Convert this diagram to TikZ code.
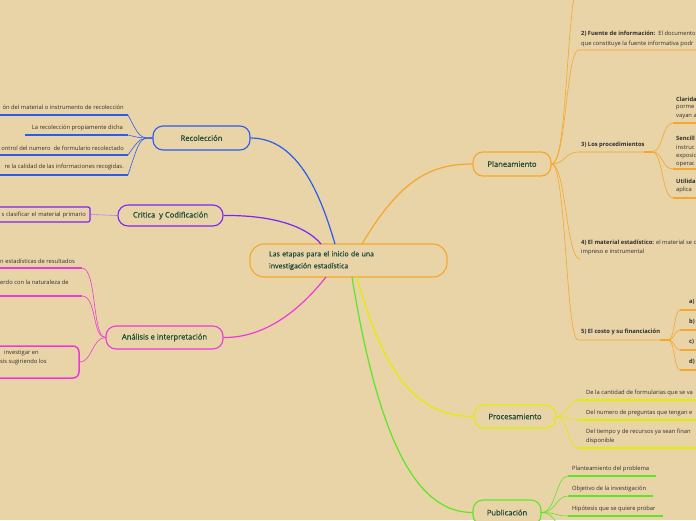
\documentclass[tikz,border=0pt]{standalone}
\usepackage{fontspec}
\setmainfont{Open Sans}
\newfontfamily\medfont{Open Sans}[FakeBold=0.7]
\definecolor{bg}{HTML}{E9D4A8}
\definecolor{cblue}{HTML}{2B5BF0}
\definecolor{cpurple}{HTML}{7E22F5}
\definecolor{cmag}{HTML}{EE3AD9}
\definecolor{corange}{HTML}{F6A62A}
\definecolor{cyellow}{HTML}{DDF000}
\definecolor{cgreen}{HTML}{5CE626}
\definecolor{tgreen}{HTML}{1E4B3A}
\definecolor{tgray}{HTML}{2E2E2E}
\tikzset{
  mainbox/.style={draw, line width=1.1pt, rounded corners=10pt, fill=bg, text=tgreen,
    font=\medfont\fontsize{7.6}{9}\selectfont, inner sep=0pt, align=center},
  small/.style={font=\fontsize{5.8}{9}\selectfont, text=tgray, inner sep=0pt},
  thinc/.style={line width=0.6pt},
  uline/.style={line width=1.6pt},
}
\begin{document}
\begin{tikzpicture}[x=1pt,y=-1pt]
\useasboundingbox (0,0) rectangle (696,520);
\clip (0,0) rectangle (696,520);
\fill[bg] (0,0) rectangle (696,520);

% ---------- main nodes ----------
\node[mainbox, draw=corange, minimum width=197pt, minimum height=33pt, rounded corners=14pt,
  text width=159pt, align=left, font=\medfont\fontsize{7}{12}\selectfont] (center) at (348.5,260.5)
  {Las etapas para el inicio de una\\investigación estadística};
\node[mainbox, draw=cblue, minimum width=97pt, minimum height=24pt] (rec) at (201.5,138) {Recolección};
\node[mainbox, draw=cpurple, minimum width=105pt, minimum height=21pt] (crit) at (170.5,215.5) {Critica\ \ y Codificación};
\node[mainbox, draw=cmag, minimum width=117pt, minimum height=23pt] (ana) at (164.5,337.5) {Análisis e interpretación};
\node[mainbox, draw=corange, minimum width=78pt, minimum height=24pt] (plan) at (512,164) {Planeamiento};
\node[mainbox, draw=cyellow, minimum width=82pt, minimum height=23pt] (proc) at (515,416.5) {Procesamiento};
\node[mainbox, draw=cgreen, minimum width=68pt, minimum height=25pt] (pub) at (507,512.5) {Publicación};

% ---------- central connectors ----------
\coordinate (cB) at (335,244);
\coordinate (cP) at (321,244);
\coordinate (cM) at (326,277);
\coordinate (cO) at (362,244);
\coordinate (cY) at (357,277);
\coordinate (cG) at (352,277);
\draw[cblue, line width=1.2pt] (rec.east) .. controls (300,138) and (322,200) .. (cB);
\draw[cpurple, line width=1.2pt] (crit.east) .. controls (270,215) and (305,225) .. (cP);
\draw[cmag, line width=1.2pt] (ana.east) .. controls (265,338) and (300,310) .. (cM);
\draw[corange, line width=1.2pt] (cO) .. controls (400,180) and (430,164) .. (plan.west);
\draw[cyellow, line width=1.2pt] (cY) .. controls (385,380) and (420,416.5) .. (proc.west);
\draw[cgreen, line width=1.2pt] (cG) .. controls (380,450) and (420,512.5) .. (pub.west);

% ---------- Recolección ----------
\node[small, anchor=east] (r1) at (124,107) {ón del material o instrumento de recolección};
\node[small, anchor=east] (r2) at (123,128) {La recolección propiamente dicha};
\node[small, anchor=east] (r3) at (124,148) {ontrol del numero\ \ de formulario recolectado};
\node[small, anchor=east] (r4) at (124,167) {re la calidad de las informaciones recogidas.};
\coordinate (r1e) at (128,115); \coordinate (r1s) at (-5,115);
\coordinate (r2e) at (128,135); \coordinate (r2s) at (25,135);
\coordinate (r3e) at (128,155); \coordinate (r3s) at (-5,155);
\coordinate (r4e) at (128,175); \coordinate (r4s) at (-5,175);
\foreach \a/\b in {r1e/r1s,r2e/r2s,r3e/r3s,r4e/r4s}{
  \draw[cblue, uline] (\a) -- (\b);
  \draw[cblue, thinc] (rec.west) .. controls (140,138) and (140,138) .. (\a);
}

% ---------- Critica ----------
\node[small, draw=cpurple, line width=1.2pt, rounded corners=2pt, fill=bg,
  minimum width=96pt, minimum height=15pt, text width=88pt, align=right] (cr1) at (42,214.5)
  {s clasificar el material primario};
\draw[cpurple!60, thinc] (cr1.east) -- (crit.west);

% ---------- Análisis ----------
\node[small, anchor=west] (a1) at (0,261) {n estadísticas de resultados};
\node[small, anchor=west] (a2) at (0,282) {erdo con la naturaleza de};
\coordinate (a1e) at (82,268); \coordinate (a1s) at (-5,268);
\coordinate (a2e) at (82,296); \coordinate (a2s) at (-5,296);
\draw[cmag, uline] (a1s) -- (a1e);
\draw[cmag, uline] (a2s) -- (a2e);
\node[draw=cmag, line width=1.5pt, rounded corners=6pt, minimum width=86pt, minimum height=32pt,
  inner sep=0pt] (a3) at (36,362) {};
\node[small, anchor=west] (a3t1) at (4,353) {investigar en};
\node[small, anchor=west] (a3t2) at (0,362) {sis sugiriendo los};
\draw[cmag, thinc] (ana.west) .. controls (92,338) and (97,268) .. (a1e);
\draw[cmag, thinc] (ana.west) .. controls (92,338) and (97,296) .. (a2e);
\draw[cmag, thinc] (ana.west) .. controls (92,338) and (92,362) .. (a3.east);

% ---------- Planeamiento ----------
\coordinate (p1) at (575,-10);
\coordinate (p2) at (578,50); \coordinate (p2e) at (700,50);
\coordinate (p3) at (578,152); \coordinate (p3e) at (652,152);
\coordinate (p4) at (580,259);
\coordinate (p5) at (578,340); \coordinate (p5e) at (668,340);
\draw[corange, thinc] (plan.east) .. controls (566,164) and (566,40) .. (p1);
\draw[corange, thinc] (plan.east) .. controls (566,164) and (566,55) .. (p2) -- (p2e);
\draw[corange, thinc] (plan.east) .. controls (565,164) and (565,152) .. (p3) -- (p3e);
\draw[corange, thinc] (plan.east) .. controls (566,164) and (566,259) .. (p4);
\draw[corange, thinc] (plan.east) .. controls (566,164) and (566,340) .. (p5) -- (p5e);
\draw[corange, line width=1.4pt] (644,152) -- (p3e);
\draw[corange, line width=1.4pt] (660,340) -- (p5e);

\node[small, anchor=west] (t2a) at (581,34) {\textbf{2) Fuente de información:}\ \ El documento};
\node[small, anchor=west] (t2b) at (581,44) {que constituye la fuente informativa podr};
\node[small, anchor=west] (t3) at (581,145) {\textbf{3) Los procedimientos}};
\node[small, anchor=west] (t4a) at (581,243) {\textbf{4) El material estadístico:} el material se c};
\node[small, anchor=west] (t4b) at (581,252) {impreso e instrumental};
\node[small, anchor=west] (t5) at (581,332) {\textbf{5) El costo y su financiación}};

% sub of 3
\coordinate (s1) at (673,123); \coordinate (s1e) at (700,123);
\coordinate (s2) at (673,169); \coordinate (s2e) at (700,169);
\coordinate (s3) at (673,198); \coordinate (s3e) at (700,198);
\draw[corange, thinc] (p3e) .. controls (663,152) and (662,123) .. (s1);
\draw[corange, thinc] (p3e) .. controls (663,152) and (662,169) .. (s2);
\draw[corange, thinc] (p3e) .. controls (663,152) and (662,198) .. (s3);
\draw[corange, line width=1.3pt] (s1) -- (s1e);
\draw[corange, line width=1.3pt] (s2) -- (s2e);
\draw[corange, line width=1.3pt] (s3) -- (s3e);
\node[small, anchor=west] (c1) at (676,99) {\textbf{Clarida}};
\node[small, anchor=west] (c2) at (676,108) {porme};
\node[small, anchor=west] (c3) at (676,117) {vayan a};
\node[small, anchor=west] (e1) at (676,138) {\textbf{Sencill}};
\node[small, anchor=west] (e2) at (676,147) {instruc};
\node[small, anchor=west] (e3) at (676,156) {exposic};
\node[small, anchor=west] (e4) at (676,165) {operac};
\node[small, anchor=west] (u1) at (676,181) {\textbf{Utilida}};
\node[small, anchor=west] (u2) at (676,190) {aplica};

% sub of 5
\coordinate (f1) at (680,310); \coordinate (f1e) at (700,310);
\coordinate (f2) at (680,330); \coordinate (f2e) at (700,330);
\coordinate (f3) at (680,350); \coordinate (f3e) at (700,350);
\coordinate (f4) at (680,370); \coordinate (f4e) at (700,370);
\draw[corange, thinc] (p5e) .. controls (675,340) and (674,310) .. (f1);
\draw[corange, thinc] (p5e) .. controls (675,340) and (674,330) .. (f2);
\draw[corange, thinc] (p5e) .. controls (675,340) and (674,350) .. (f3);
\draw[corange, thinc] (p5e) .. controls (675,340) and (674,370) .. (f4);
\draw[corange, line width=1.3pt] (f1) -- (f1e);
\draw[corange, line width=1.3pt] (f2) -- (f2e);
\draw[corange, line width=1.3pt] (f3) -- (f3e);
\draw[corange, line width=1.3pt] (f4) -- (f4e);
\node[small, anchor=west] (fa) at (689,302) {\textbf{a)}};
\node[small, anchor=west] (fb) at (689,322) {\textbf{b)}};
\node[small, anchor=west] (fc) at (689,342) {\textbf{c)}};
\node[small, anchor=west] (fd) at (689,362) {\textbf{d)}};

% ---------- Procesamiento ----------
\coordinate (q1) at (578,400); \coordinate (q1e) at (700,400);
\coordinate (q2) at (578,420); \coordinate (q2e) at (700,420);
\coordinate (q3) at (578,448); \coordinate (q3e) at (700,448);
\draw[cyellow, thinc] (proc.east) .. controls (568,416.5) and (568,400) .. (q1);
\draw[cyellow, thinc] (proc.east) .. controls (568,416.5) and (568,420) .. (q2);
\draw[cyellow, thinc] (proc.east) .. controls (568,416.5) and (568,448) .. (q3);
\draw[cyellow, uline] (q1) -- (q1e);
\draw[cyellow, uline] (q2) -- (q2e);
\draw[cyellow, uline] (q3) -- (q3e);
\node[small, anchor=west] (g1) at (586,393) {De la cantidad de formularias que se va};
\node[small, anchor=west] (g2) at (586,413) {Del numero de preguntas que tengan e};
\node[small, anchor=west] (g3) at (586,432) {Del tiempo y de recursos ya sean finan};
\node[small, anchor=west] (g4) at (586,441) {disponible};

% ---------- Publicación ----------
\coordinate (h1) at (568,476); \coordinate (h1e) at (656,476);
\coordinate (h2) at (568,496); \coordinate (h2e) at (653,496);
\coordinate (h3) at (568,516); \coordinate (h3e) at (663,516);
\coordinate (h4) at (566,530);
\draw[cgreen, thinc] (pub.east) .. controls (556,512.5) and (556,476) .. (h1);
\draw[cgreen, thinc] (pub.east) .. controls (556,512.5) and (556,496) .. (h2);
\draw[cgreen, thinc] (pub.east) .. controls (556,512.5) and (556,516) .. (h3);
\draw[cgreen, thinc] (pub.east) .. controls (556,512.5) and (556,530) .. (h4);
\draw[cgreen, uline] (h1) -- (h1e);
\draw[cgreen, uline] (h2) -- (h2e);
\draw[cgreen, uline] (h3) -- (h3e);
\node[small, anchor=west] (k1) at (572,469) {Planteamiento del problema};
\node[small, anchor=west] (k2) at (572,489) {Objetivo de la investigación};
\node[small, anchor=west] (k3) at (572,509) {Hipótesis que se quiere probar};
\end{tikzpicture}
\end{document}
